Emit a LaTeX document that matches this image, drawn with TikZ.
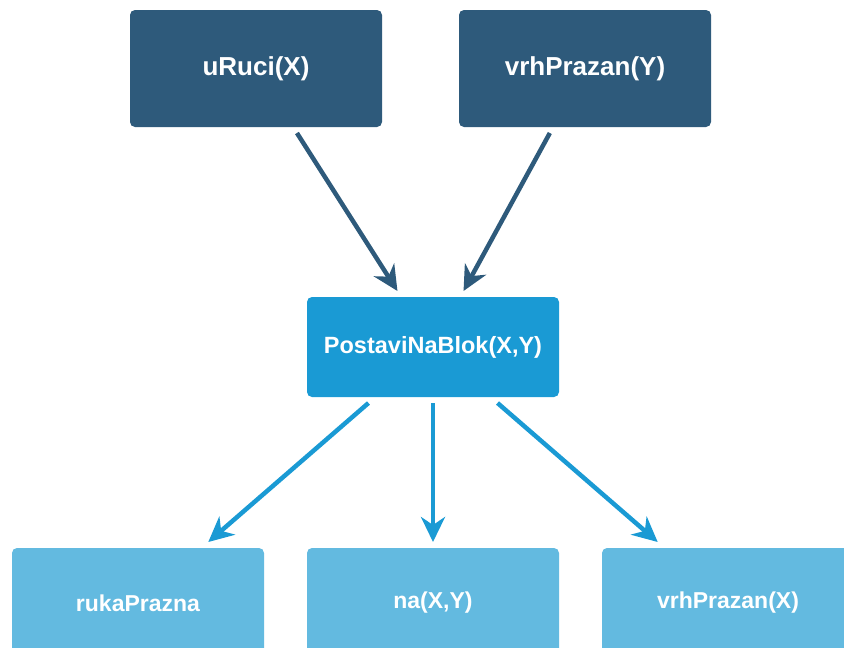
\documentclass[tikz,border=0pt]{standalone}
\usepackage{fontspec}
\setmainfont{Liberation Sans}
\usetikzlibrary{arrows.meta}
\definecolor{darkblue}{RGB}{46,90,123}
\definecolor{midblue}{RGB}{26,154,212}
\definecolor{lightblue}{RGB}{99,186,224}
\tikzset{
  box/.style={rounded corners=5pt, minimum width=252pt, text=white, font=\bfseries, outer sep=6pt, inner sep=0pt},
  precond/.style={box, fill=darkblue, minimum height=117pt, font=\bfseries\fontsize{26}{30}\selectfont},
  action/.style={box, fill=midblue, minimum height=100pt, font=\bfseries\fontsize{23.5}{27}\selectfont},
  effect/.style={box, fill=lightblue, minimum height=110pt, font=\bfseries\fontsize{23}{27}\selectfont},
  link/.style={line width=4.5pt, -{Stealth[length=25pt,width=24pt,inset=8pt]}}
}

\begin{document}
\begin{tikzpicture}[x=1pt,y=-1pt]

\useasboundingbox (0,0) rectangle (844,648);
\clip (0,0) rectangle (844,648);

\node[precond] (uruci) at (256,68.5) {uRuci(X)};
\node[precond] (vrhy) at (585,68.5) {vrhPrazan(Y)};
\node[action] (postavi) at (433,347) {PostaviNaBlok(X,Y)};
\node[effect] (ruka) at (138,603) {rukaPrazna};
\node[effect] (naxy) at (433,603) {na(X,Y)};
\node[effect] (vrhx) at (728,603) {vrhPrazan(X)};

\draw[link, darkblue] (uruci) -- (postavi);
\draw[link, darkblue] (vrhy) -- (postavi);
\draw[link, midblue] (postavi) -- (ruka);
\draw[link, midblue] (postavi) -- (naxy);
\draw[link, midblue] (postavi) -- (vrhx);

\end{tikzpicture}
\end{document}
